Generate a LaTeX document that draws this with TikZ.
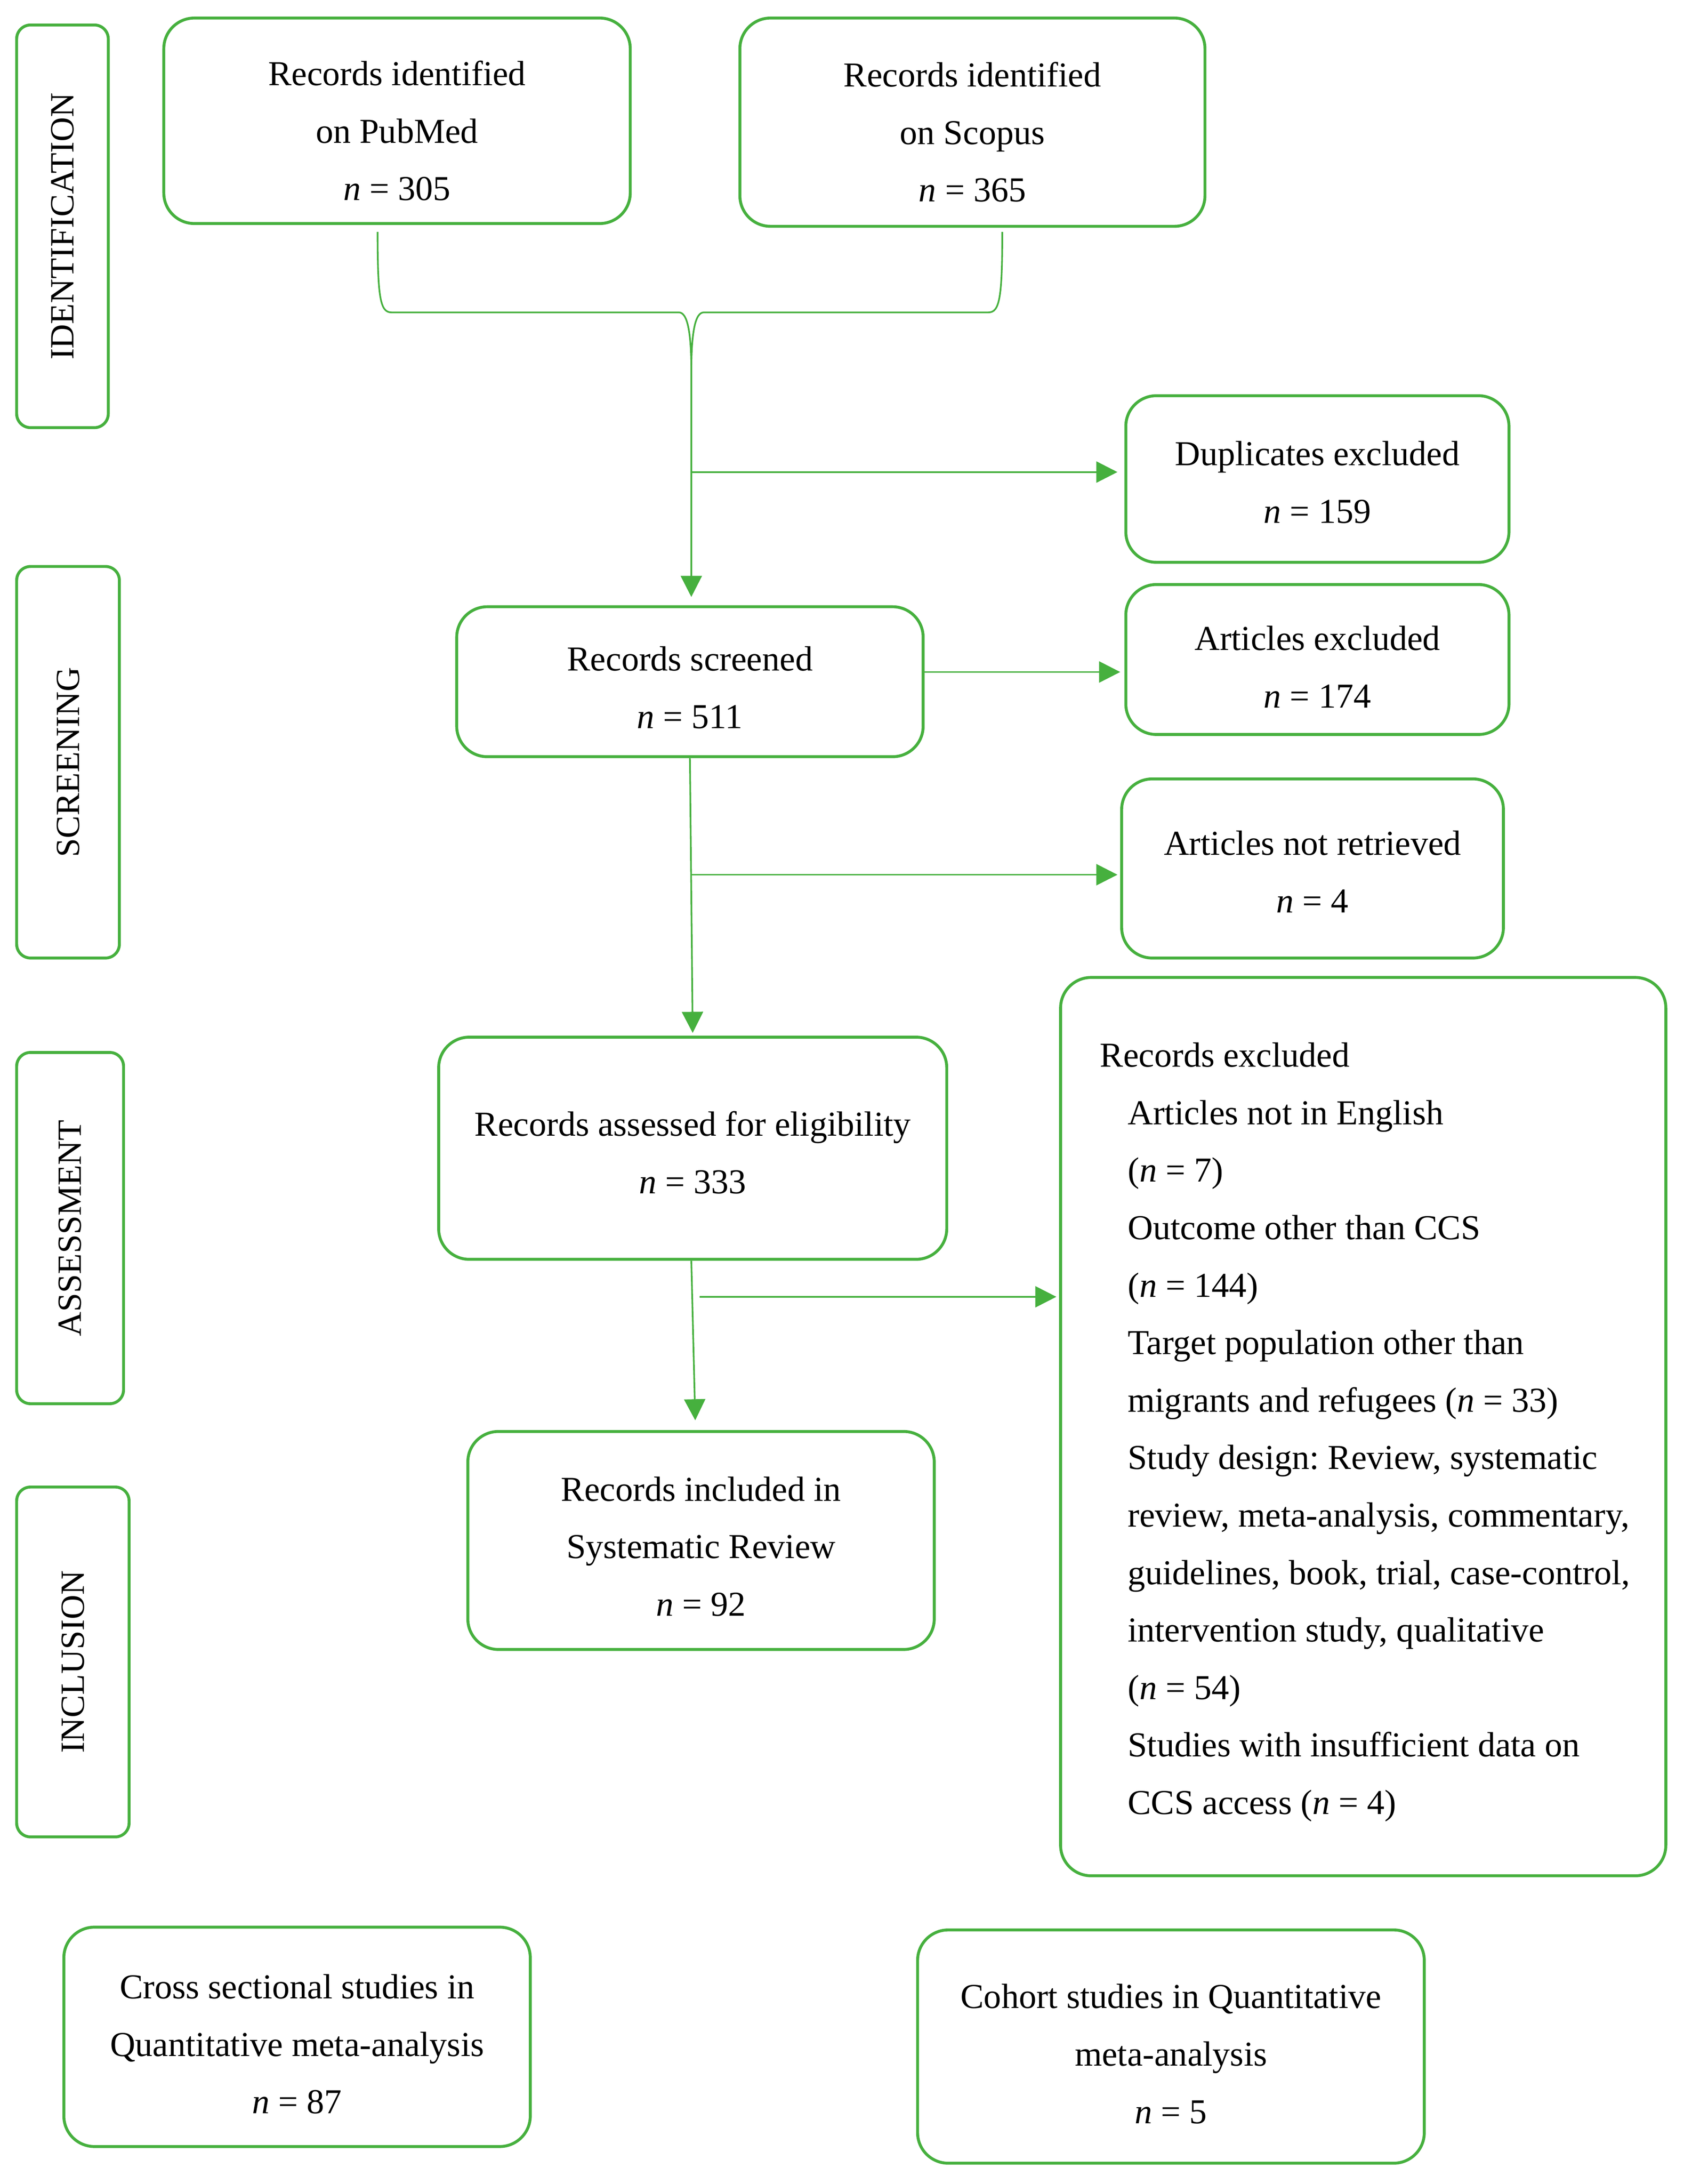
\documentclass[tikz,border=0pt]{standalone}
\usepackage{fontspec}
\setmainfont{Liberation Serif}
\usetikzlibrary{arrows.meta,calc}
\definecolor{pgreen}{RGB}{70,176,62}
\newcommand{\tstrut}{\rule{0pt}{14pt}}
\frenchspacing
\begin{document}
\begin{tikzpicture}[x=0.5pt,y=-0.5pt,
  box/.style={draw=pgreen,line width=1.05pt,rounded corners=11pt,inner sep=0pt,align=center,
    font=\fontsize{12.6}{20.7}\selectfont},
  txt/.style={inner sep=0pt,align=left,font=\fontsize{12.6}{20.7}\selectfont},
  stagebox/.style={draw=pgreen,line width=1.05pt,rounded corners=5pt,inner sep=0pt,rotate=90,
    font=\fontsize{12.2}{14}\selectfont},
  conn/.style={draw=pgreen,line width=0.6pt},
  arr/.style={conn,-{Triangle[length=7.6pt,width=7.6pt]}},
]
\useasboundingbox[fill=white] (0,0) rectangle (1213,1573);

% stage boxes
\node[stagebox,minimum width=145pt,minimum height=33pt] (sid) at (45,163) {IDENTIFICATION};
\node[stagebox,minimum width=141pt,minimum height=37pt] (sscr) at (49,549) {SCREENING};
\node[stagebox,minimum width=126.5pt,minimum height=38.5pt] (sass) at (50.5,884.5) {ASSESSMENT};
\node[stagebox,minimum width=126pt,minimum height=40.5pt] (sinc) at (52.5,1197) {INCLUSION};

% main boxes
\node[box,minimum width=168pt,minimum height=74pt] (pub) at (286,87) {\rule{0pt}{16pt}Records identified\\on PubMed\\\textit{n} = 305};
\node[box,minimum width=167.5pt,minimum height=75pt] (sco) at (700.5,88) {\rule{0pt}{16pt}Records identified\\on Scopus\\\textit{n} = 365};
\node[box,minimum width=138pt,minimum height=60pt] (dup) at (949,345) {\rule{0pt}{11pt}Duplicates excluded\\\textit{n} = 159};
\node[box,minimum width=168pt,minimum height=54pt] (scr) at (497,491) {\rule{0pt}{13pt}Records screened\\\textit{n} = 511};
\node[box,minimum width=138pt,minimum height=54pt] (aex) at (949,475) {\tstrut Articles excluded\\\textit{n} = 174};
\node[box,minimum width=137.5pt,minimum height=64.5pt] (anr) at (945.5,625.5) {\rule{0pt}{11pt}Articles not retrieved\\\textit{n} = 4};
\node[box,minimum width=183pt,minimum height=80pt] (ass) at (499,827) {\rule{0pt}{12pt}Records assessed for eligibility\\\textit{n} = 333};
\node[box,minimum width=218pt,minimum height=323.5pt] (rex) at (982,1027.5) {};
\node[txt,anchor=west] (rext) at (792,1031.5) {Records excluded\\
\hspace*{10pt}Articles not in English\\
\hspace*{10pt}(\textit{n} = 7)\\
\hspace*{10pt}Outcome other than CCS\\
\hspace*{10pt}(\textit{n} = 144)\\
\hspace*{10pt}Target population other than\\
\hspace*{10pt}migrants and refugees (\textit{n} = 33)\\
\hspace*{10pt}Study design: Review, systematic\\
\hspace*{10pt}review, meta-analysis, commentary,\\
\hspace*{10pt}guidelines, book, trial, case-control,\\
\hspace*{10pt}intervention study, qualitative\\
\hspace*{10pt}(\textit{n} = 54)\\
\hspace*{10pt}Studies with insufficient data on\\
\hspace*{10pt}CCS access (\textit{n} = 4)};
\node[box,minimum width=168pt,minimum height=78.5pt] (inc) at (505,1109.5) {\rule{0pt}{13pt}Records included in\\Systematic Review\\\textit{n} = 92};
\node[box,minimum width=168pt,minimum height=79pt] (cs) at (214,1467) {\tstrut Cross sectional studies in\\Quantitative meta-analysis\\\textit{n} = 87};
\node[box,minimum width=182.5pt,minimum height=84pt] (co) at (843.5,1474) {\tstrut Cohort studies in Quantitative\\meta-analysis\\\textit{n} = 5};

% connectors
\coordinate (bl) at (272,167);
\coordinate (br) at (722,167);
\coordinate (j) at (498,268);
\coordinate (d0) at (498,340);
\coordinate (nr0) at (498,630);
\coordinate (ex0) at (504,934);

\draw[conn] (bl) .. controls (272,215) and (274,225) .. (282,225) -- (489,225) .. controls (495,225) and (498,238) .. (j);
\draw[conn] (br) .. controls (722,215) and (720,225) .. (712,225) -- (507,225) .. controls (501,225) and (498,238) .. (j);
\draw[arr,shorten >=3pt] (j) -- (j |- scr.north);
\draw[arr,shorten >=2.5pt] (d0) -- (d0 -| dup.west);
\draw[arr,shorten >=1.5pt] ([yshift=3.5pt]scr.east) -- ([yshift=3.5pt]scr.east -| aex.west);
\draw[arr,shorten >=1pt] (scr.south) -- (ass.north);
\draw[arr,shorten >=1pt] (nr0) -- (nr0 -| anr.west);
\draw[arr,shorten >=3.5pt] ([xshift=-0.5pt]ass.south) -- ([xshift=-2pt]inc.north);
\draw[arr,shorten >=1pt] (ex0) -- (ex0 -| rex.west);
\end{tikzpicture}
\end{document}
